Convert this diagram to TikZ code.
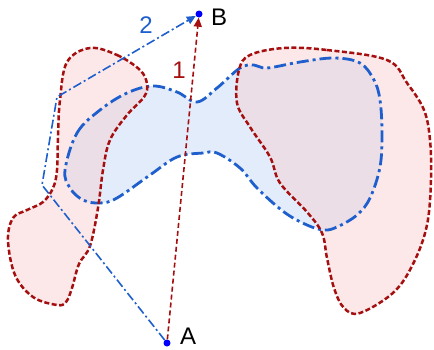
\documentclass[tikz,border=0pt]{standalone}
\usepackage{fontspec}
\setmainfont{Liberation Sans}
\usetikzlibrary{arrows.meta,positioning}

\definecolor{regred}{RGB}{165,15,15}
\definecolor{regblue}{RGB}{30,95,205}
\definecolor{pinkfill}{RGB}{248,205,205}
\definecolor{bluefill}{RGB}{197,217,245}

\newcommand{\leftlobe}{plot[smooth cycle, tension=0.6] coordinates {
      (90,48) (117,55) (140,70) (147,84) (144,97) (127,115) (110,140) (103,170)
      (98,208) (90,246) (79,264) (72,288) (66,302) (57,305) (33,297) (15,275)
      (8,240) (13,218) (27,210) (43,202) (53,188) (57,170) (58,135) (60,100) (67,62)}}
\newcommand{\rightlobe}{plot[smooth cycle, tension=0.6] coordinates {
      (284,48) (327,50) (387,60) (407,83) (424,110) (430,140) (431,180) (427,225)
      (414,262) (394,292) (360,313) (344,308) (334,288) (327,258) (322,233) (307,212)
      (280,183) (270,157) (250,127) (237,103) (239,70) (250,55)}}
\newcommand{\bluelobe}{plot[smooth cycle, tension=0.6] coordinates {
      (65,170) (77,133) (100,110) (127,93) (153,86) (177,92) (197,102) (217,88)
      (240,68) (254,65) (267,68) (300,62) (334,58) (360,63) (374,80) (380,100)
      (382,133) (380,167) (370,198) (357,215) (337,227) (324,230) (307,225)
      (284,212) (257,188) (240,168) (217,153) (203,153) (177,157) (150,175)
      (117,198) (100,203) (83,200) (70,188)}}

\begin{document}
\begin{tikzpicture}[
      x=1pt, y=-1pt,
      redfill/.style={fill=pinkfill, fill opacity=0.45},
      bluefillst/.style={fill=bluefill, fill opacity=0.5},
      redline/.style={draw=regred, line width=2.5pt, dash pattern=on 5pt off 2.5pt},
      blueline/.style={draw=regblue, line width=2.8pt, dash pattern=on 12pt off 4pt on 3pt off 4pt},
      pt/.style={circle, fill=blue, inner sep=0pt, minimum size=7pt},
      lbl/.style={font=\fontsize{24}{26}\selectfont},
      arrred/.style={-{Triangle[length=9pt, width=8pt]}, regred, line width=1.6pt,
          dash pattern=on 5pt off 3pt},
      arrblue/.style={-{Triangle[length=9pt, width=8pt]}, regblue, line width=1.6pt,
          dash pattern=on 9pt off 3pt on 2pt off 3pt},
    ]
    \useasboundingbox (0,0) rectangle (434,349);

    % regions
    \fill[bluefillst] \bluelobe;
    \fill[redfill] \leftlobe;
    \fill[redfill] \rightlobe;
    \draw[blueline] \bluelobe;
    \draw[redline] \leftlobe;
    \draw[redline] \rightlobe;

    % points
    \node[pt] (a) at (167,343) {};
    \node[pt] (b) at (199,14) {};
    \node[lbl, right=6pt of a, yshift=7pt] (alabel) {A};
    \node[lbl, right=5pt of b, yshift=-3pt] (blabel) {B};

    \coordinate (c1) at (42,185);
    \coordinate (c2) at (57,97);

    % routes
    \draw[arrred] (a) -- (b);
    \draw[arrblue] (a) -- (c1) -- (c2) -- (b);
    \node[lbl, text=regred] (one) at (179,70) {1};
    \node[lbl, text=regblue] (two) at (146,25) {2};
  \end{tikzpicture}
\end{document}
